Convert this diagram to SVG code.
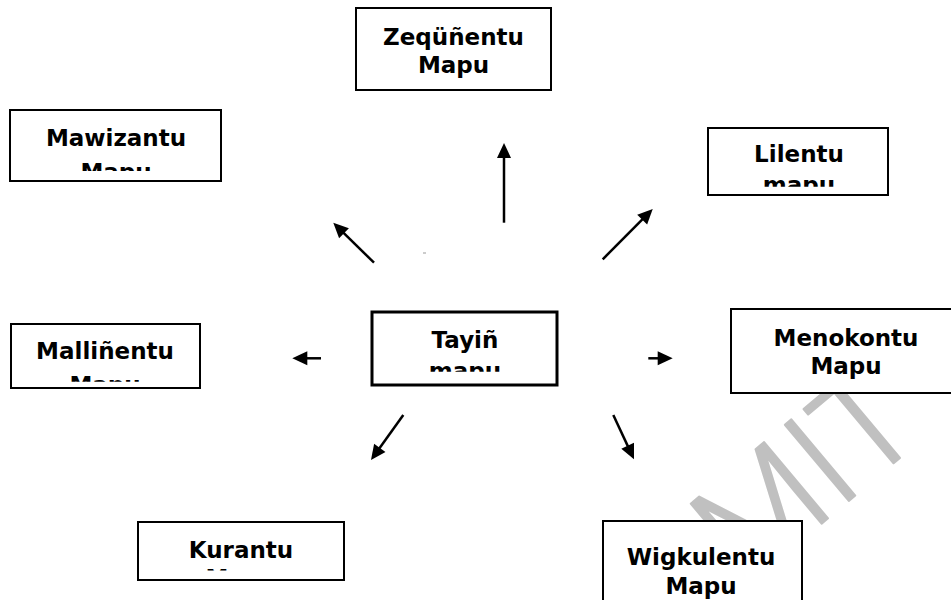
<svg xmlns="http://www.w3.org/2000/svg" width="951" height="600" viewBox="0 0 951 600">
<style>
.box{fill:#fff;stroke:#000;stroke-width:2}
.main{fill:#fff;stroke:#000;stroke-width:3}
.lbl{font-family:"DejaVu Sans","Liberation Sans",sans-serif;font-weight:bold;font-size:23px;fill:#000;text-anchor:middle}
.arr{stroke:#000;stroke-width:2.5;fill:none;marker-end:url(#ah)}
.wm{font-family:Roboto,Inter,"Open Sans",sans-serif;font-weight:300;font-size:140px;fill:#c0c0c0;stroke:#c0c0c0;stroke-width:2;stroke-linejoin:round}
</style>
<defs>
<marker id="ah" markerUnits="userSpaceOnUse" markerWidth="16" markerHeight="15" refX="7" refY="7" orient="auto" overflow="visible">
<path d="M0,0 L15,7 L0,14 z" fill="#000"/>
</marker>
<clipPath id="cMaw"><rect x="10" y="110" width="211" height="61"/></clipPath>
<clipPath id="cLil"><rect x="708" y="128" width="180" height="58.7"/></clipPath>
<clipPath id="cMal"><rect x="11" y="324" width="189" height="57.7"/></clipPath>
<clipPath id="cTay"><rect x="372" y="312" width="185" height="59.7"/></clipPath>
<clipPath id="cKur"><rect x="138" y="522" width="206" height="48.5"/></clipPath>
</defs>
<rect width="951" height="600" fill="#fff"/>
<text class="wm" transform="translate(745,588) rotate(-40)">MIT</text>
<g id="connectors">
<line class="arr" x1="504" y1="222.7" x2="504" y2="151"/>
<line class="arr" x1="374" y1="262.7" x2="339" y2="228.3"/>
<line class="arr" x1="602.7" y1="259.3" x2="647.1" y2="214.7"/>
<line class="arr" x1="321" y1="358.3" x2="300.3" y2="358.3"/>
<line class="arr" x1="648.3" y1="358.3" x2="664.7" y2="358.3"/>
<line class="arr" x1="403.3" y1="415" x2="375.7" y2="453.5"/>
<line class="arr" x1="613.3" y1="415" x2="630.6" y2="452.1"/>
<line x1="423" y1="253" x2="426" y2="253" stroke="#999" stroke-width="1"/>
</g>
<g id="zequnentu">
<rect class="box" x="356" y="8" width="195" height="82"/>
<text class="lbl" x="453.5" y="45">Zeqüñentu</text>
<text class="lbl" x="453.5" y="73">Mapu</text>
</g>
<g id="mawizantu">
<rect class="box" x="10" y="110" width="211" height="71"/>
<g clip-path="url(#cMaw)">
<text class="lbl" x="116" y="145.7">Mawizantu</text>
<text class="lbl" x="116" y="180">Mapu</text>
</g>
</g>
<g id="lilentu">
<rect class="box" x="708" y="128" width="180" height="67"/>
<g clip-path="url(#cLil)">
<text class="lbl" x="799" y="162.3">Lilentu</text>
<text class="lbl" x="799" y="193.3">mapu</text>
</g>
</g>
<g id="mallinentu">
<rect class="box" x="11" y="324" width="189" height="64"/>
<g clip-path="url(#cMal)">
<text class="lbl" x="105" y="359.3">Malliñentu</text>
<text class="lbl" x="105" y="393">Mapu</text>
</g>
</g>
<g id="tayin">
<rect class="main" x="372" y="312" width="185" height="73"/>
<g clip-path="url(#cTay)">
<text class="lbl" x="465" y="348.3">Tayiñ</text>
<text class="lbl" x="465" y="379.3">mapu</text>
</g>
</g>
<g id="menokontu">
<rect class="box" x="731" y="309" width="231" height="84"/>
<text class="lbl" x="846" y="345.7">Menokontu</text>
<text class="lbl" x="846" y="374">Mapu</text>
</g>
<g id="kurantu">
<rect class="box" x="138" y="522" width="206" height="58"/>
<g clip-path="url(#cKur)">
<text class="lbl" x="241" y="557.7">Kurantu</text>
<text class="lbl" x="241" y="585.5">Mapu</text>
</g>
</g>
<g id="wigkulentu">
<rect class="box" x="603" y="521" width="199" height="100"/>
<text class="lbl" x="701" y="565">Wigkulentu</text>
<text class="lbl" x="701" y="593.6">Mapu</text>
</g>
</svg>
